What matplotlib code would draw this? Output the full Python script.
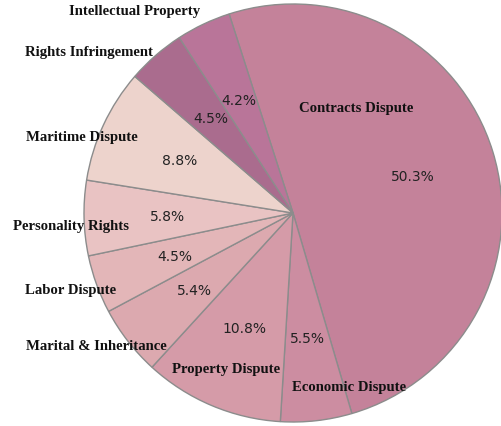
import numpy as np
import matplotlib.pyplot as plt

categories = ['Contracts Dispute', 'Economic Dispute', 'Property Dispute',
              'Marital & Inheritance', 'Labor Dispute', 'Personality Rights',
              'Maritime Dispute', 'Rights Infringement', 'Intellectual Property']
shares = [50.3, 5.5, 10.8, 5.4, 4.5, 5.8, 8.8, 4.5, 4.2]
colors = ['#C4829A', '#CC8DA1', '#D59BA8', '#DCA9AF', '#E3B6B8',
          '#E9C3C3', '#EDD3CC', '#AA6C8E', '#B97599']

# where each category name sits (pie radius = 1)
label_pos = [(0.304, 0.507), (0.268, -0.828), (-0.321, -0.746),
             (-0.943, -0.632), (-1.062, -0.368), (-1.062, -0.062),
             (-1.012, 0.364), (-0.974, 0.775), (-0.756, 0.967)]

total = sum(shares)

fig = plt.figure(figsize=(5.01, 4.27), dpi=100)
ax = fig.add_axes([0, 0, 1, 1])

wedges, texts, autotexts = ax.pie(
    shares, colors=colors, startangle=107.8, counterclock=False,
    autopct=lambda p: f'{p * total / 100:.1f}%', pctdistance=0.6,
    wedgeprops=dict(edgecolor='#8c8c8c', linewidth=1.0),
    textprops=dict(fontsize=10, color='#222222'))

for name, (x, y) in zip(categories, label_pos):
    ax.text(x, y, name, ha='center', va='center', fontsize=10.6,
            fontweight='bold', family='Liberation Serif', color='#111111')

ax.set_xlim(-293 / 209, 208 / 209)
ax.set_ylim(-213 / 209, 214 / 209)
ax.set_aspect('equal')
ax.axis('off')

fig.savefig('out.png', dpi=100)
